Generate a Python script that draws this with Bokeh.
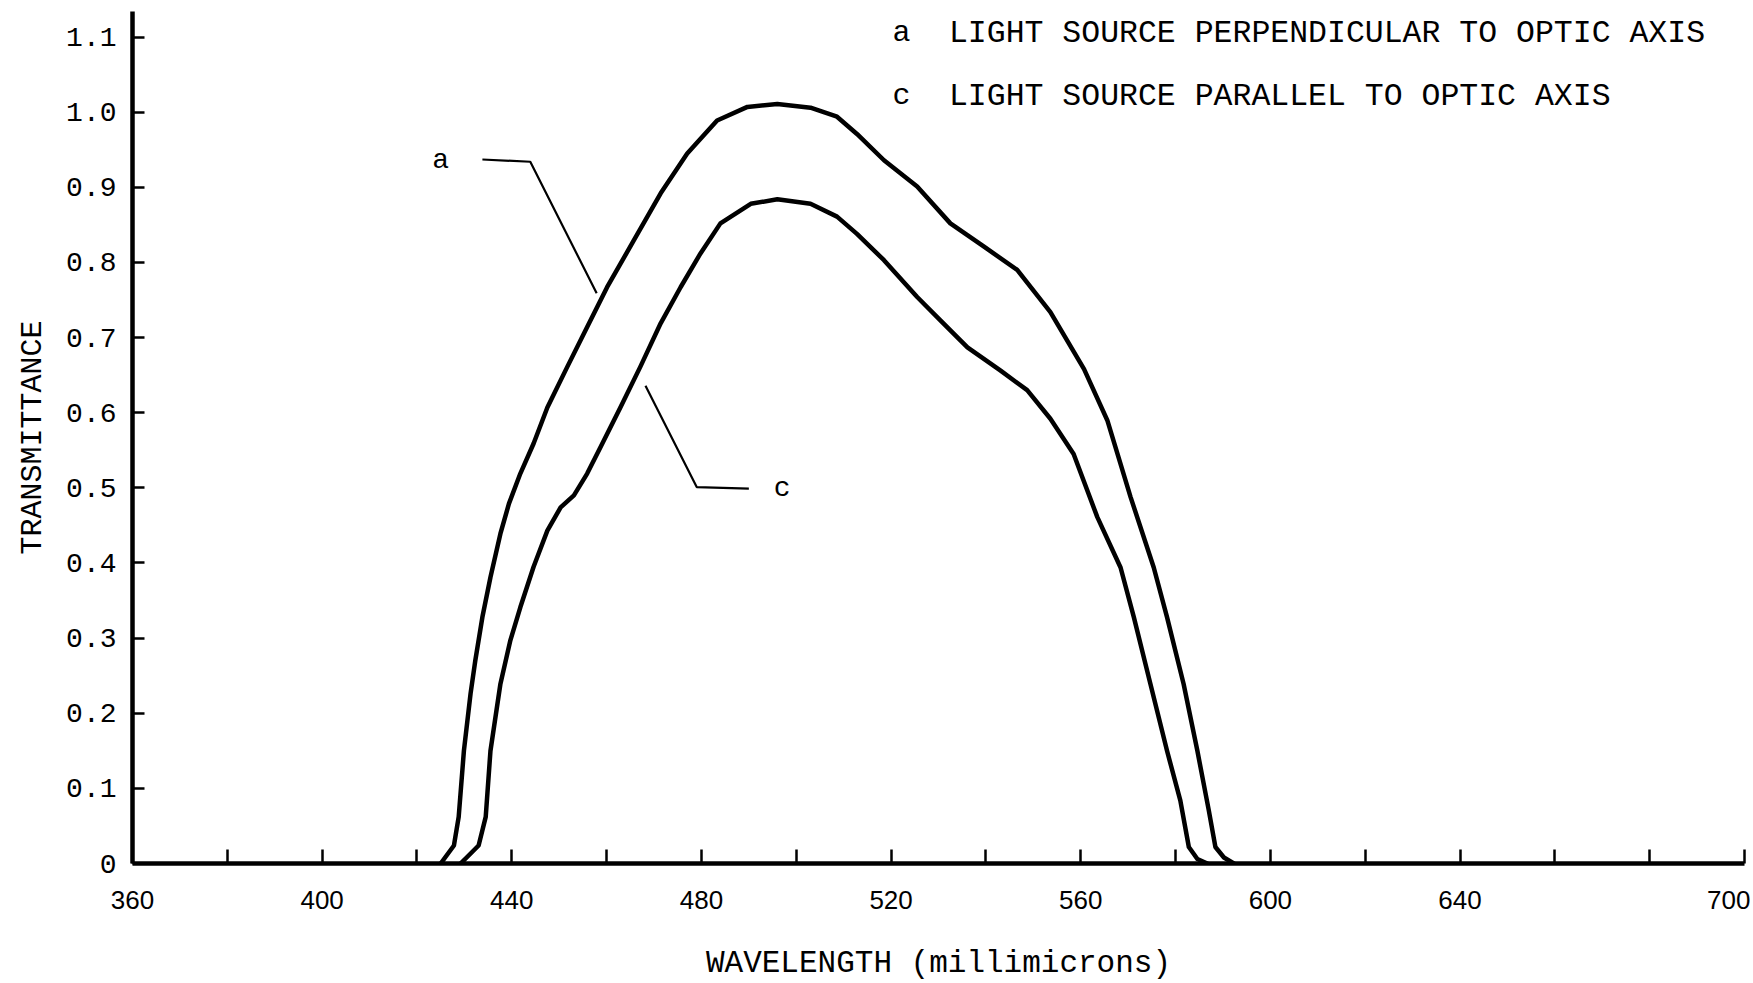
from bokeh.plotting import figure
from bokeh.models import Range1d, FixedTicker
from bokeh.core.properties import value
from bokeh.embed import file_html
from bokeh.resources import INLINE

# ---- data ----
wl_a = [425, 427.8, 428.8, 429.9, 431.3, 432.3, 433.8, 435.5, 437.6, 439.4, 441.8, 444.6,
        447.5, 451.7, 455.9, 460.1, 465.7, 471.4, 477, 483.3, 489.7, 496, 503, 508.6,
        512.8, 518.5, 525.5, 532.5, 539.6, 546.6, 553.6, 560.7, 565.6, 570.5, 575.4,
        578.2, 581.7, 584.6, 587, 588.4, 590.2, 592.3]
tr_a = [0, 0.024, 0.062, 0.150, 0.226, 0.270, 0.328, 0.381, 0.439, 0.479, 0.519, 0.559,
        0.607, 0.661, 0.714, 0.767, 0.829, 0.892, 0.945, 0.989, 1.007, 1.011, 1.006, 0.994,
        0.971, 0.936, 0.901, 0.852, 0.821, 0.790, 0.734, 0.658, 0.590, 0.488, 0.394,
        0.328, 0.239, 0.150, 0.071, 0.022, 0.008, 0]

wl_c = [429.2, 433.0, 434.5, 435.5, 437.6, 439.7, 441.8, 444.6, 447.5, 450.3, 453.1, 455.9,
        458.7, 462.9, 467.1, 471.4, 475.6, 479.8, 484, 490.4, 496, 503, 508.6, 512.8,
        518.5, 525.5, 530.4, 536.1, 543.1, 548.7, 553.6, 558.5, 563.5, 568.4, 571.2,
        574.7, 578.2, 581, 582.8, 584.6, 586.7]
tr_c = [0, 0.024, 0.062, 0.150, 0.239, 0.297, 0.341, 0.395, 0.443, 0.474, 0.490, 0.519,
        0.554, 0.607, 0.661, 0.719, 0.767, 0.812, 0.852, 0.878, 0.884, 0.878, 0.861, 0.838,
        0.803, 0.754, 0.723, 0.687, 0.656, 0.630, 0.592, 0.545, 0.461, 0.394, 0.328,
        0.239, 0.150, 0.084, 0.022, 0.006, 0]

x_major = [360, 400, 440, 480, 520, 560, 600, 640, 700]
x_minor = [380, 420, 460, 500, 540, 580, 620, 660, 680]
y_ticks = [0, 0.1, 0.2, 0.3, 0.4, 0.5, 0.6, 0.7, 0.8, 0.9, 1.0, 1.1]
y_labels = ["0", "0.1", "0.2", "0.3", "0.4", "0.5", "0.6", "0.7", "0.8", "0.9", "1.0", "1.1"]

legend_keys = ["a", "c"]
legend_texts = ["LIGHT SOURCE PERPENDICULAR TO OPTIC AXIS",
                "LIGHT SOURCE PARALLEL TO OPTIC AXIS"]

MONO = "Liberation Mono"

p = figure(width=1750, height=983, output_backend="svg", toolbar_location=None,
           x_range=Range1d(360, 700), y_range=Range1d(0, 1.134),
           min_border_left=132, min_border_right=6, min_border_top=11,
           min_border_bottom=120)
p.outline_line_color = None
p.grid.visible = False
p.background_fill_color = "white"
p.border_fill_color = "white"

# curves
p.line(wl_a, tr_a, line_color="black", line_width=4.5, line_join="round", line_cap="round")
p.line(wl_c, tr_c, line_color="black", line_width=4.5, line_join="round", line_cap="round")

# curve identifiers with leader lines
p.line([433.8, 443.9, 457.9], [0.937, 0.934, 0.759], line_color="black", line_width=2.2)
p.line([468.2, 479.0, 490.0], [0.636, 0.501, 0.499], line_color="black", line_width=2.2)
p.text(x=[425.0, 497.0], y=[0.936, 0.499], text=["a", "c"],
       text_font=value(MONO), text_font_size="28px", text_align="center",
       text_baseline="middle", text_color="black")

# legend text (key letter and description drawn separately)
p.text(x=[520.3, 520.3], y=[1.105, 1.021], text=legend_keys,
       text_font=value(MONO), text_font_size="30px", text_align="left",
       text_baseline="middle", text_color="black")
p.text(x=[532.2, 532.2], y=[1.105, 1.021], text=legend_texts,
       text_font=value(MONO), text_font_size="31.5px", text_align="left",
       text_baseline="middle", text_color="black")

# x axis
xa = p.xaxis[0]
xa.ticker = FixedTicker(ticks=x_major, minor_ticks=x_minor)
xa.axis_line_width = 4.5
xa.major_tick_in = 14
xa.major_tick_out = 0
xa.minor_tick_in = 14
xa.minor_tick_out = 0
xa.major_tick_line_width = 2.5
xa.minor_tick_line_width = 2.5
xa.major_label_text_font = "Liberation Sans"
xa.major_label_text_font_size = "26px"
xa.major_label_text_color = "black"
xa.major_label_standoff = 27
xa.axis_label = "WAVELENGTH (millimicrons)"
xa.axis_label_text_font = MONO
xa.axis_label_text_font_size = "31px"
xa.axis_label_text_font_style = "normal"
xa.axis_label_text_color = "black"
xa.axis_label_standoff = 34

# y axis
ya = p.yaxis[0]
ya.ticker = FixedTicker(ticks=y_ticks)
ya.major_label_overrides = {t: l for t, l in zip(y_ticks, y_labels)}
ya.axis_line_width = 4.5
ya.major_tick_in = 12
ya.major_tick_out = 0
ya.minor_tick_line_color = None
ya.major_tick_line_width = 2.5
ya.major_label_text_font = MONO
ya.major_label_text_font_size = "28px"
ya.major_label_text_color = "black"
ya.major_label_standoff = 16
ya.axis_label = "TRANSMITTANCE"
ya.axis_label_text_font = MONO
ya.axis_label_text_font_size = "30px"
ya.axis_label_text_font_style = "normal"
ya.axis_label_text_color = "black"
ya.axis_label_standoff = 13

open("out.html", "w").write(file_html(p, INLINE))
